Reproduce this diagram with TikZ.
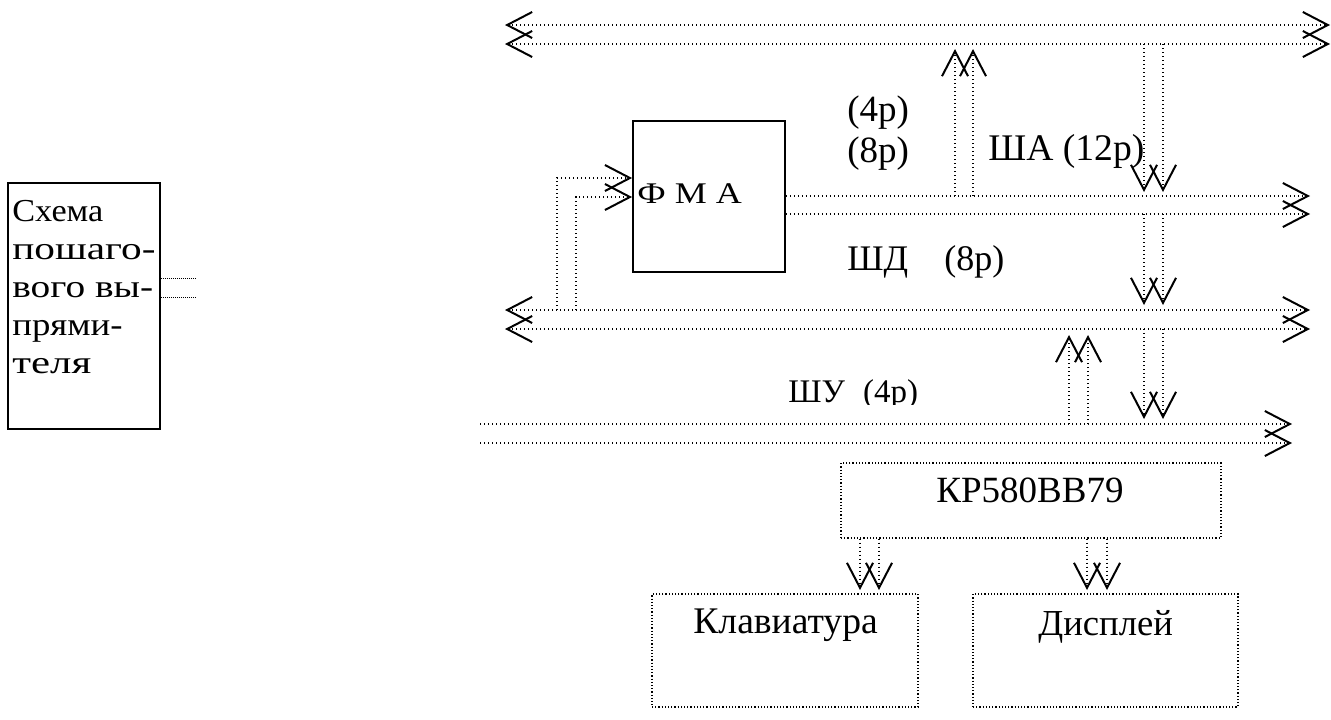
\documentclass[tikz,border=0pt]{standalone}
\usepackage{fontspec}
\usepackage{graphicx}
\setmainfont{Liberation Serif}
\usetikzlibrary{arrows.meta}
\begin{document}
\begin{tikzpicture}[x=0.5pt,y=-0.5pt,
  bus/.style={line width=0.65pt, dash pattern=on 0.65pt off 1.35pt},
  fine/.style={line width=0.3pt, dash pattern=on 0.3pt off 0.7pt},
  arr/.style={-{Straight Barb[length=12.5pt,width=13pt,line width=1pt]}},
  darr/.style={{Straight Barb[length=12.5pt,width=13pt,line width=1pt]}-{Straight Barb[length=12.5pt,width=13pt,line width=1pt]}},
  solidbox/.style={draw, line width=0.9pt, inner sep=0pt},
  dotbox/.style={draw, line width=0.6pt, dash pattern=on 0.6pt off 1pt, inner sep=0pt},
  txt/.style={anchor=base west, inner sep=0pt}]
\useasboundingbox (0,0) rectangle (1331,719);

% boxes
\node[solidbox, minimum width=76pt, minimum height=123pt] (schema) at (84,306) {};
\node[solidbox, minimum width=76pt, minimum height=75.5pt] (fma) at (709,196.5) {};
\node[dotbox, minimum width=190pt, minimum height=37.5pt] (kr) at (1031,500.5) {};
\node[dotbox, minimum width=133pt, minimum height=56.5pt] (kl) at (785,650.5) {};
\node[dotbox, minimum width=132.5pt, minimum height=56.5pt] (disp) at (1105.5,650.5) {};

% texts in boxes
\begin{scope}[font=\fontsize{16pt}{18pt}\selectfont]
\node[txt] (s1) at (12,221) {\scalebox{1.07}[1]{Схема}};
\node[txt] (s2) at (12,259) {\scalebox{1.29}[1]{пошаго-}};
\node[txt] (s3) at (12,297) {\scalebox{1.23}[1]{вого вы-}};
\node[txt] (s4) at (12,335) {\scalebox{1.15}[1]{прями-}};
\node[txt] (s5) at (12,373) {\scalebox{1.34}[1]{теля}};
\end{scope}
\node[txt, font=\fontsize{15pt}{17pt}\selectfont] (fmat) at (637,203) {\scalebox{1.2}[1]{Ф М А}};
\node[txt, font=\fontsize{18.5pt}{21pt}\selectfont] (krt) at (936,502) {КР580ВВ79};
\node[txt, font=\fontsize{18.8pt}{21pt}\selectfont] (klt) at (693,633) {Клавиатура};
\node[txt, font=\fontsize{18.3pt}{21pt}\selectfont] (dt) at (1038,635) {Дисплей};

% labels
\node[txt, font=\fontsize{18.5pt}{21pt}\selectfont] (l4) at (847,121) {(4р)};
\node[txt, font=\fontsize{18.5pt}{21pt}\selectfont] (l8) at (847,162) {(8р)};
\node[txt, font=\fontsize{18.8pt}{21pt}\selectfont] (lsha) at (988,160) {ША (12р)};
\node[txt, font=\fontsize{18pt}{20pt}\selectfont] (lshd) at (847,270) {ШД\hspace{18pt}(8р)};
\begin{scope}
\clip (700,340) rectangle (1000,404);
\node[txt, font=\fontsize{16.5pt}{19pt}\selectfont] (lshu) at (788,402) {ШУ\hspace{9pt}(4р)};
\end{scope}

% bus coordinates
\coordinate (t1l) at (505,25);  \coordinate (t1r) at (1330,25);
\coordinate (t2l) at (505,44);  \coordinate (t2r) at (1330,44);
\coordinate (a1l) at (fma.east |- 0,196); \coordinate (a1r) at (1310,196);
\coordinate (a2l) at (fma.east |- 0,214); \coordinate (a2r) at (1310,214);
\coordinate (d1l) at (505,310); \coordinate (d1r) at (1310,310);
\coordinate (d2l) at (505,329); \coordinate (d2r) at (1310,329);
\coordinate (u1l) at (480,424); \coordinate (u1r) at (1292,424);
\coordinate (u2l) at (480,443); \coordinate (u2r) at (1292,443);

% buses
\draw[bus, darr] (t1l) -- (t1r);
\draw[bus, darr] (t2l) -- (t2r);
\draw[bus, arr] (a1l) -- (a1r);
\draw[bus, arr] (a2l) -- (a2r);
\draw[bus, darr] (d1l) -- (d1r);
\draw[bus, darr] (d2l) -- (d2r);
\draw[bus, arr] (u1l) -- (u1r);
\draw[bus, arr] (u2l) -- (u2r);

% ША -> top bus
\coordinate (v1a) at (955,196); \coordinate (v1b) at (955,49);
\coordinate (v2a) at (973,196); \coordinate (v2b) at (973,49);
\draw[bus, arr] (v1a) -- (v1b);
\draw[bus, arr] (v2a) -- (v2b);
% top bus -> ША
\coordinate (w1a) at (1144,44); \coordinate (w1b) at (1144,192);
\coordinate (w2a) at (1163,44); \coordinate (w2b) at (1163,192);
\draw[bus, arr] (w1a) -- (w1b);
\draw[bus, arr] (w2a) -- (w2b);
% ША -> ШД
\coordinate (x1a) at (1144,214); \coordinate (x1b) at (1144,305);
\coordinate (x2a) at (1163,214); \coordinate (x2b) at (1163,305);
\draw[bus, arr] (x1a) -- (x1b);
\draw[bus, arr] (x2a) -- (x2b);
% ШД -> ШУ
\coordinate (y1a) at (1144,329); \coordinate (y1b) at (1144,419);
\coordinate (y2a) at (1163,329); \coordinate (y2b) at (1163,419);
\draw[bus, arr] (y1a) -- (y1b);
\draw[bus, arr] (y2a) -- (y2b);
% ШУ -> ШД
\coordinate (z1a) at (1069,424); \coordinate (z1b) at (1069,335);
\coordinate (z2a) at (1088,424); \coordinate (z2b) at (1088,335);
\draw[bus, arr] (z1a) -- (z1b);
\draw[bus, arr] (z2a) -- (z2b);
% ШД -> ФМА
\coordinate (f1) at (557,310); \coordinate (f2) at (576,310);
\draw[bus, arr] (f1) |- (fma.west |- 0,178);
\draw[bus, arr] (f2) |- (fma.west |- 0,197);
% КР580ВВ79 -> Клавиатура, Дисплей
\draw[bus, arr] (kr.south -| 860,0) -- (860,590);
\draw[bus, arr] (kr.south -| 879,0) -- (879,590);
\draw[bus, arr] (kr.south -| 1087,0) -- (1087,590);
\draw[bus, arr] (kr.south -| 1107,0) -- (1107,590);
% stubs from Схема
\draw[fine] (schema.east |- 0,278) -- (195,278);
\draw[fine] (schema.east |- 0,297) -- (195,297);
\end{tikzpicture}
\end{document}
